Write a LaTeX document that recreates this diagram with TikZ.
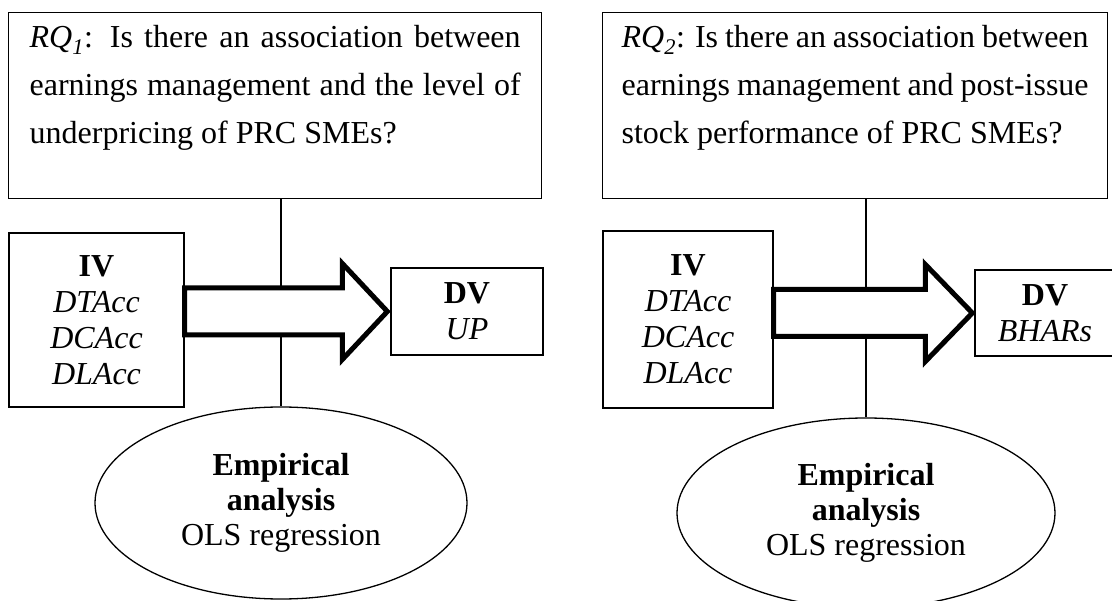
\documentclass[tikz,border=0pt]{standalone}
\usepackage{fontspec}
\setmainfont{Liberation Serif}
\usetikzlibrary{shapes.geometric, calc}

\newcommand{\spreadline}[2]{\makebox[#1][s]{#2}}

\begin{document}
\begin{tikzpicture}[x=1pt, y=-1pt, line width=1.3pt,
    rqbox/.style={draw, anchor=north west, inner ysep=13pt, font=\fontsize{32}{48}\selectfont},
    varbox/.style={draw, align=center, inner sep=0pt, font=\fontsize{32}{36}\selectfont},
    anabox/.style={draw, ellipse, align=center, inner sep=0pt, font=\fontsize{32}{35}\selectfont},
    fatarrow/.style={draw, fill=white, line width=5pt, line join=miter}]
	\useasboundingbox (0,0) rectangle (1112,601);
	\clip (0,0) rectangle (1112,601);
	% Left panel (RQ1):
	\node[rqbox, inner xsep=21pt] (rqA) at (8,12) {\parbox[t][160pt][t]{491pt}{%
	    \spreadline{491pt}{\textit{RQ}\textsubscript{\textit{1}}: Is there an association between}\\
	    \spreadline{491pt}{earnings management and the level of}\\
	    underpricing of PRC SMEs?}};
	\node[varbox, minimum width=175pt, minimum height=174pt] (ivA) at (96.5,320) {\textbf{IV}\\\textit{DTAcc}\\\textit{DCAcc}\\\textit{DLAcc}};
	\node[varbox, minimum width=152pt, minimum height=87pt] (dvA) at (467,311.5) {\textbf{DV}\\\textit{UP}};
	\node[anabox, minimum width=372pt, minimum height=192pt] (emA) at (281,503) {\textbf{Empirical}\\\textbf{analysis}\\OLS regression};
	\draw (emA.north |- rqA.south) -- (emA.north);
	\coordinate (tipA) at ($(dvA.west)+(-3,0)$);
	\draw[fatarrow] ($(ivA.east |- tipA)+(0,-23.5)$) -- ($(tipA)+(-45,-23.5)$) -- ($(tipA)+(-45,-48)$) -- (tipA)
	    -- ($(tipA)+(-45,48)$) -- ($(tipA)+(-45,23.5)$) -- ($(ivA.east |- tipA)+(0,23.5)$) -- cycle;
	% Right panel (RQ2):
	\node[rqbox, inner xsep=19pt] (rqB) at (602,12) {\parbox[t][160pt][t]{467pt}{%
	    \spreadline{467pt}{\textit{RQ}\textsubscript{\textit{2}}: Is there an association between}\\
	    \spreadline{467pt}{earnings management and post-issue}\\
	    stock performance of PRC SMEs?}};
	\node[varbox, minimum width=170pt, minimum height=177pt] (ivB) at (688,319.5) {\textbf{IV}\\\textit{DTAcc}\\\textit{DCAcc}\\\textit{DLAcc}};
	\node[varbox, minimum width=140pt, minimum height=86pt] (dvB) at (1045,313) {\textbf{DV}\\\textit{BHARs}};
	\node[anabox, minimum width=378pt, minimum height=190pt] (emB) at (866,513) {\textbf{Empirical}\\\textbf{analysis}\\OLS regression};
	\draw (emB.north |- rqB.south) -- (emB.north);
	\coordinate (tipB) at ($(dvB.west)+(-2,0)$);
	\draw[fatarrow] ($(ivB.east |- tipB)+(0,-23.5)$) -- ($(tipB)+(-47,-23.5)$) -- ($(tipB)+(-47,-48.5)$) -- (tipB)
	    -- ($(tipB)+(-47,48.5)$) -- ($(tipB)+(-47,23.5)$) -- ($(ivB.east |- tipB)+(0,23.5)$) -- cycle;
\end{tikzpicture}
\end{document}
